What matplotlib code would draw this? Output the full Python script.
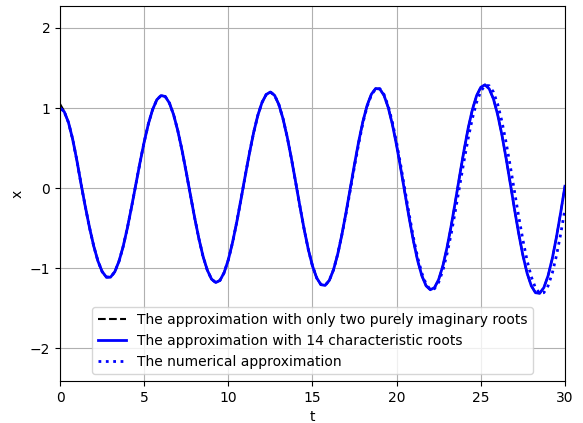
import numpy as np
import matplotlib
matplotlib.use("Agg")
import matplotlib.pyplot as plt

# sample times, every 0.25 from 0 to 30
t = np.linspace(0, 30, 121)

# solution built from 14 characteristic roots
x_roots14 = [
    1.000, 0.954, 0.820, 0.611, 0.345, 0.049, -0.231, -0.492, -0.723, -0.910,
    -1.042, -1.111, -1.112, -1.046, -0.915, -0.729, -0.498, -0.235, 0.042, 0.319,
    0.577, 0.803, 0.981, 1.103, 1.156, 1.144, 1.062, 0.915, 0.714, 0.470,
    0.196, -0.090, -0.372, -0.631, -0.855, -1.024, -1.136, -1.179, -1.153, -1.055,
    -0.894, -0.679, -0.424, -0.141, 0.150, 0.432, 0.691, 0.907, 1.069, 1.169,
    1.200, 1.158, 1.044, 0.866, 0.636, 0.366, 0.074, -0.224, -0.509, -0.764,
    -0.972, -1.122, -1.205, -1.215, -1.152, -1.019, -0.824, -0.578, -0.296, 0.003,
    0.303, 0.587, 0.836, 1.035, 1.173, 1.243, 1.238, 1.158, 1.007, 0.794,
    0.532, 0.237, -0.072, -0.378, -0.661, -0.906, -1.095, -1.220, -1.269, -1.243,
    -1.140, -0.968, -0.736, -0.461, -0.154, 0.161, 0.467, 0.747, 0.979, 1.154,
    1.259, 1.290, 1.240, 1.115, 0.921, 0.671, 0.378, 0.062, -0.259, -0.564,
    -0.837, -1.060, -1.219, -1.306, -1.313, -1.242, -1.093, -0.878, -0.608, -0.302,
    0.023,
]

# solution from the single pair of purely imaginary roots
x_two_roots = [1.050, 0.958] + x_roots14[2:]

# numerical integration of the delay equation
x_numeric = x_roots14[:68] + [
    -0.315, -0.021,
    0.275, 0.557, 0.818, 1.022, 1.163, 1.239, 1.242, 1.169, 1.027, 0.821,
    0.566, 0.277, -0.029, -0.333, -0.618, -0.866, -1.063, -1.199, -1.265, -1.256,
    -1.175, -1.026, -0.816, -0.561, -0.272, 0.032, 0.335, 0.620, 0.869, 1.070,
    1.208, 1.282, 1.279, 1.201, 1.051, 0.838, 0.575, 0.278, -0.037, -0.350,
    -0.644, -0.902, -1.106, -1.246, -1.314, -1.305, -1.220, -1.061, -0.840, -0.570,
    -0.264,
]

fig = plt.figure(figsize=(5.83, 4.23), dpi=100)
ax = fig.add_axes([0.103, 0.099, 0.866, 0.887])

ax.plot(t, x_two_roots, "k--", lw=1.5,
        label="The approximation with only two purely imaginary roots")
ax.plot(t, x_roots14, "b-", lw=2,
        label="The approximation with 14 characteristic roots")
ax.plot(t, x_numeric, "b:", lw=2,
        label="The numerical approximation")

ax.set_xlim(0, 30)
ax.set_ylim(-2.41, 2.275)
ax.set_xticks([0, 5, 10, 15, 20, 25, 30])
ax.set_yticks([-2, -1, 0, 1, 2])
ax.set_xlabel("t")
ax.set_ylabel("x")
ax.grid(True)
ax.legend(loc="lower center")

fig.savefig("out.png", dpi=100)
